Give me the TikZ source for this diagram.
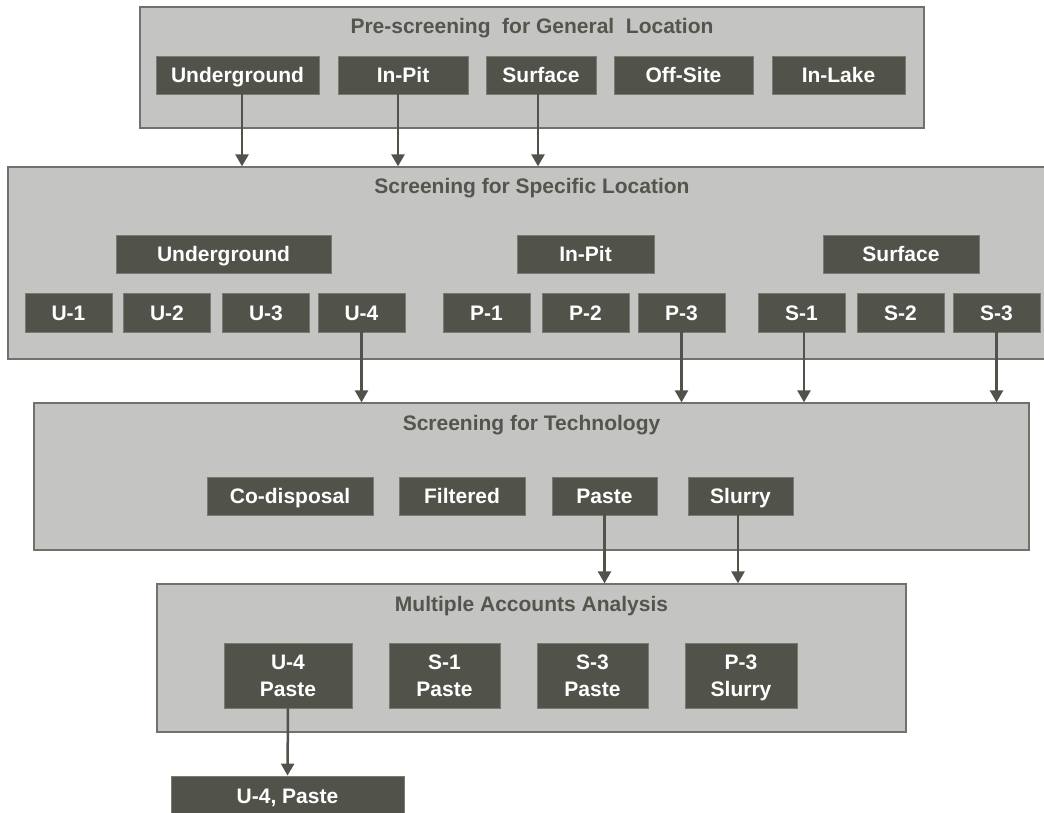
\documentclass[tikz,border=0pt]{standalone}
\usepackage{fontspec}
\setmainfont{Liberation Sans}
\usetikzlibrary{arrows.meta}
\definecolor{panelc}{HTML}{C4C4C2}
\definecolor{paneledge}{HTML}{72726C}
\definecolor{boxc}{HTML}{51524A}
\definecolor{boxedge}{HTML}{7A7A72}
\definecolor{titlec}{HTML}{55554D}
\begin{document}
\begin{tikzpicture}[x=1pt,y=-1pt,
  panel/.style={fill=panelc,draw=paneledge,line width=1.3pt,inner sep=0pt},
  bx/.style={fill=boxc,draw=boxedge,line width=0.8pt,text=white,inner sep=0pt,
    text height=15pt,text depth=0pt,
    font=\bfseries\fontsize{21}{26.5}\selectfont,align=center},
  bxtwo/.style={bx,text height=41.5pt},
  ptitle/.style={text=titlec,inner sep=0pt,text height=15pt,text depth=0pt,
    font=\bfseries\fontsize{21}{25}\selectfont},
  arr/.style={draw=boxc,line width=2.5pt,-{Triangle[length=12pt,width=13pt]}}]
\useasboundingbox (0,0) rectangle (1044,813);
% Panel 1
\node[panel,minimum width=784pt,minimum height=121pt] (p1) at (532,67.5) {};
\node[ptitle] (t1) at (532,26) {Pre-screening\ \ for General\ \ Location};
\node[bx,minimum width=163pt,minimum height=38pt] (ug1) at (237.5,75) {Underground};
\node[bx,minimum width=130pt,minimum height=38pt] (ip1) at (403,75) {In-Pit};
\node[bx,minimum width=110pt,minimum height=38pt] (sf1) at (541,75) {Surface};
\node[bx,minimum width=139pt,minimum height=38pt] (os1) at (683.5,75) {Off-Site};
\node[bx,minimum width=133pt,minimum height=38pt] (il1) at (838.5,75) {In-Lake};
% Panel 2
\node[panel,minimum width=1047pt,minimum height=192pt] (p2) at (531.5,263) {};
\node[ptitle] (t2) at (532,186) {Screening for Specific Location};
\node[bx,minimum width=215pt,minimum height=38pt] (ug2) at (223.5,254) {Underground};
\node[bx,minimum width=137pt,minimum height=38pt] (ip2) at (585.5,254) {In-Pit};
\node[bx,minimum width=156pt,minimum height=38pt] (sf2) at (901,254) {Surface};
\foreach \n/\t/\x in {u1/U-1/68.5,u2/U-2/167,u3/U-3/266,u4/U-4/361.5,
  q1/P-1/486.5,q2/P-2/585.5,q3/P-3/681.5,s1/S-1/801.5,s2/S-2/900.5,s3/S-3/996.5}
  \node[bx,minimum width=87pt,minimum height=39pt] (\n) at (\x,312.5) {\t};
% Panel 3
\node[panel,minimum width=995pt,minimum height=147pt] (p3) at (531.5,476.5) {};
\node[ptitle] (t3) at (531.5,423) {Screening for Technology};
\node[bx,minimum width=166pt,minimum height=38pt] (cd) at (290,496) {Co-disposal};
\node[bx,minimum width=126pt,minimum height=38pt] (fl) at (462,496) {Filtered};
\node[bx,minimum width=105pt,minimum height=38pt] (pa) at (604.5,496) {Paste};
\node[bx,minimum width=105pt,minimum height=38pt] (sl) at (740.5,496) {Slurry};
% Panel 4
\node[panel,minimum width=749pt,minimum height=148pt] (p4) at (531.5,658) {};
\node[ptitle] (t4) at (531.5,604) {Multiple Accounts Analysis};
\node[bxtwo,minimum width=128pt,minimum height=65pt] (u4p) at (288,675.5) {U-4\\Paste};
\node[bxtwo,minimum width=111pt,minimum height=65pt] (s1p) at (444.5,675.5) {S-1\\Paste};
\node[bxtwo,minimum width=111pt,minimum height=65pt] (s3p) at (592.5,675.5) {S-3\\Paste};
\node[bxtwo,minimum width=112pt,minimum height=65pt] (p3s) at (741,675.5) {P-3\\Slurry};
% Final
\node[bx,minimum width=233pt,minimum height=39pt] (fin) at (287.5,795.5) {U-4, Paste};
% Arrows
\draw[arr] ([xshift=4.5pt]ug1.south) -- ([xshift=4.5pt]ug1.south |- p2.north);
\draw[arr] ([xshift=-5pt]ip1.south) -- ([xshift=-5pt]ip1.south |- p2.north);
\draw[arr] ([xshift=-3pt]sf1.south) -- ([xshift=-3pt]sf1.south |- p2.north);
\draw[arr] (u4.south) -- (u4.south |- p3.north);
\draw[arr] (q3.south) -- (q3.south |- p3.north);
\draw[arr] ([xshift=2.5pt]s1.south) -- ([xshift=2.5pt]s1.south |- p3.north);
\draw[arr] (s3.south) -- (s3.south |- p3.north);
\draw[arr] (pa.south) -- (pa.south |- p4.north);
\draw[arr] ([xshift=-2.5pt]sl.south) -- ([xshift=-2.5pt]sl.south |- p4.north);
\draw[arr] (u4p.south) -- (fin.north);
\end{tikzpicture}
\end{document}
